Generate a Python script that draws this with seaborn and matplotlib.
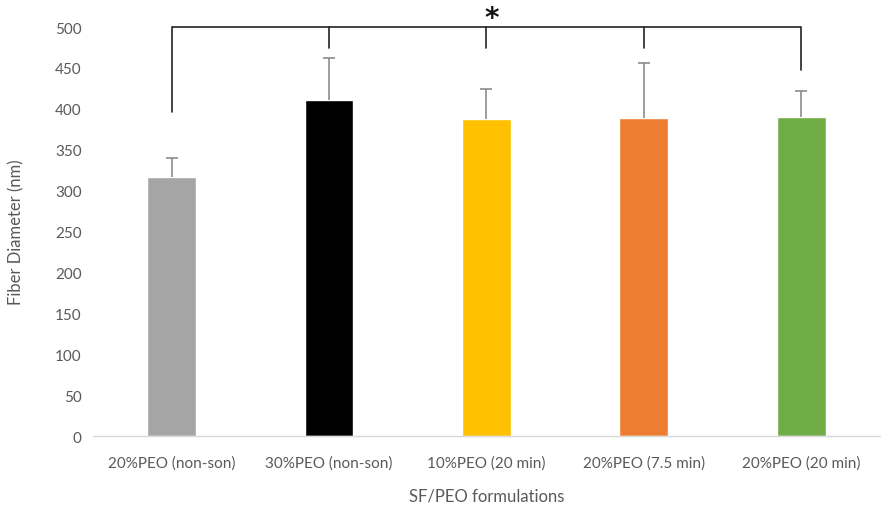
import matplotlib
matplotlib.use("Agg")
import matplotlib.pyplot as plt
import seaborn as sns
import pandas as pd
import numpy as np

categories = ["20%PEO (non-son)", "30%PEO (non-son)", "10%PEO (20 min)",
              "20%PEO (7.5 min)", "20%PEO (20 min)"]
means = [317, 411, 387, 389, 390]
errors = [23, 51, 37, 67, 32]
colors = ["#a5a5a5", "#000000", "#ffc000", "#ed7d31", "#70ad47"]
bracket_top = 500
bracket_legs = [396, 474, 474, 474, 448]

sns.set_theme(style="white")
plt.rcParams["font.family"] = ["Lato", "DejaVu Sans"]

df = pd.DataFrame({"cat": categories, "val": means})

fig = plt.figure(figsize=(8.82, 5.10), dpi=100)
ax = fig.add_axes([0.1054, 0.1431, 0.8923, 0.8019])

sns.barplot(data=df, x="cat", y="val", hue="cat", palette=colors,
            order=categories, hue_order=categories, width=0.31,
            legend=False, ax=ax, saturation=1)

xs = np.arange(len(categories))
eb = ax.errorbar(xs, means, yerr=[np.zeros(len(errors)), errors], fmt="none",
                 ecolor="#8c8c8c", elinewidth=1.2, capsize=4, capthick=1.2, zorder=3)
caps = eb[1]
if len(caps) >= 2:
    caps[0].set_visible(False)

# significance bracket
ax.plot([xs[0], xs[-1]], [bracket_top, bracket_top], color="#222222", lw=1.2,
        clip_on=False, solid_capstyle="butt")
for x, leg in zip(xs, bracket_legs):
    ax.plot([x, x], [leg, bracket_top], color="#222222", lw=1.2, clip_on=False)
ax.text((xs[0] + xs[-1]) / 2 + 0.03, bracket_top + 1, "*", ha="center", va="baseline",
        fontsize=20, fontweight="bold", color="#111111", family="DejaVu Sans")

ax.set_ylim(0, 500)
ax.set_xlim(-0.5, len(categories) - 0.5)
ax.set_yticks(range(0, 501, 50))
ax.tick_params(axis="both", colors="#595959", labelsize=11, length=0, pad=8)
ax.tick_params(axis="x", pad=14)
for s in ["top", "right", "left"]:
    ax.spines[s].set_visible(False)
ax.spines["bottom"].set_color("#d9d9d9")
ax.spines["bottom"].set_linewidth(1)
ax.set_xlabel("SF/PEO formulations", fontsize=12, color="#595959", labelpad=13)
ax.set_ylabel("Fiber Diameter (nm)", fontsize=12, color="#595959", labelpad=22)
ax.grid(False)

fig.savefig("out.png", dpi=100)
